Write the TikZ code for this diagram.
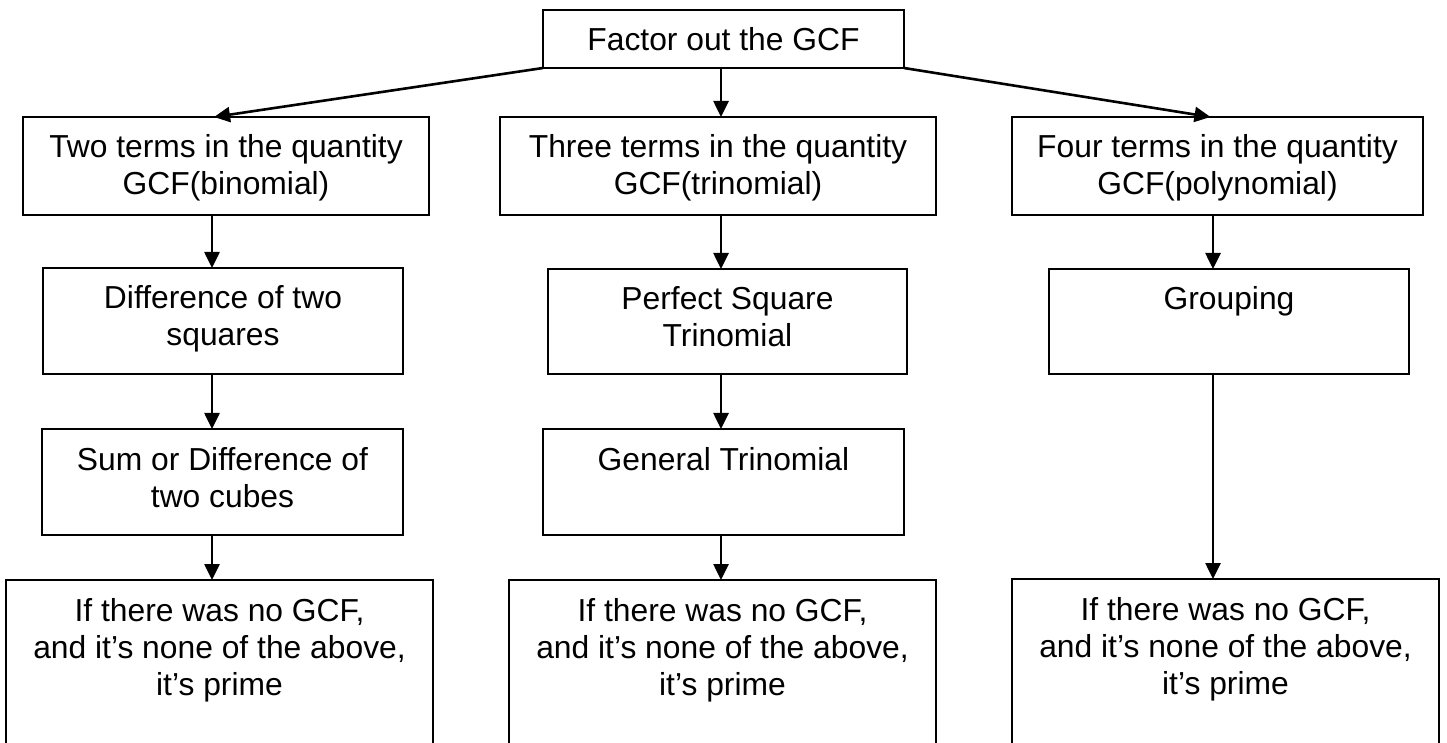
\documentclass[tikz,border=0pt]{standalone}
\usepackage{fontspec}
\setmainfont{Liberation Sans}
\usetikzlibrary{arrows.meta}
\newcommand\mybox[3]{\parbox[c][#2][t]{#1}{\centering\rule{0pt}{20.5pt}#3}}
\tikzset{
  fbox/.style={draw=black, line width=1.1pt, inner sep=0pt, outer sep=0pt, anchor=north west,
    font=\fontsize{15.9pt}{18.5pt}\selectfont},
  arr/.style={line width=1.3pt, -{Triangle[length=8pt,width=7.5pt]}, shorten >=0pt}
}
\begin{document}
\begin{tikzpicture}[x=0.5pt,y=-0.5pt]
\useasboundingbox (0,0) rectangle (1447,743);
\fill[white] (0,0) rectangle (1447,743);
\begin{scope}
\clip (0,0) rectangle (1447,743);
% column x positions of the vertical connectors
\coordinate (c1) at (212,0);
\coordinate (c2) at (721,0);
\coordinate (c3) at (1213,0);
% top
\node[fbox] (top) at (543,10) {\mybox{180.5pt}{29pt}{Factor out the GCF}};
% row 1
\node[fbox] (t2) at (23,117) {\mybox{203pt}{49pt}{Two terms in the quantity\\GCF(binomial)}};
\node[fbox] (t3) at (500,117) {\mybox{218pt}{49pt}{Three terms in the quantity\\GCF(trinomial)}};
\node[fbox] (t4) at (1012,117) {\mybox{205.5pt}{49pt}{Four terms in the quantity\\GCF(polynomial)}};
% row 2
\node[fbox] (d) at (43,268) {\mybox{180pt}{53pt}{Difference of two\\squares}};
\node[fbox] (ps) at (548,269) {\mybox{179.5pt}{52.5pt}{Perfect Square\\Trinomial}};
\node[fbox] (g) at (1049,269) {\mybox{180pt}{52.5pt}{Grouping}};
% row 3
\node[fbox] (s) at (42,429) {\mybox{180.5pt}{53pt}{Sum or Difference of\\two cubes}};
\node[fbox] (gt) at (543,429) {\mybox{180.5pt}{53pt}{General Trinomial}};
% bottom row
\node[fbox] (f1) at (6,580) {\mybox{213.5pt}{92pt}{If there was no GCF,\\and it’s none of the above,\\it’s prime}};
\node[fbox] (f2) at (509,580) {\mybox{213.5pt}{92pt}{If there was no GCF,\\and it’s none of the above,\\it’s prime}};
\node[fbox] (f3) at (1012,579) {\mybox{213.5pt}{92pt}{If there was no GCF,\\and it’s none of the above,\\it’s prime}};
% connectors from the top
\draw[arr] (top.south west) -- ([xshift=-6pt]t2.north);
\draw[arr] (top.south -| c2) -- (t3.north -| c2);
\draw[arr] (top.south east) -- ([xshift=-3.5pt]t4.north);
% column 1
\draw[arr] (t2.south -| c1) -- (d.north -| c1);
\draw[arr] (d.south -| c1) -- (s.north -| c1);
\draw[arr] (s.south -| c1) -- (f1.north -| c1);
% column 2
\draw[arr] (t3.south -| c2) -- (ps.north -| c2);
\draw[arr] (ps.south -| c2) -- (gt.north -| c2);
\draw[arr] (gt.south -| c2) -- (f2.north -| c2);
% column 3
\draw[arr] (t4.south -| c3) -- (g.north -| c3);
\draw[arr] (g.south -| c3) -- (f3.north -| c3);
\end{scope}
\end{tikzpicture}
\end{document}
